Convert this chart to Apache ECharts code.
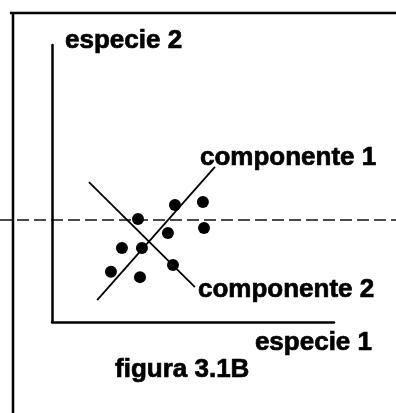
<!DOCTYPE html>
<html lang="es">
<head>
    <meta charset="UTF-8">
    <title>figura 3.1B</title>
    <style>
        * {
            margin: 0;
            padding: 0;
            box-sizing: border-box;
        }

        html,
        body {
            height: 100%;
            background: #fff;
        }

        #box {
            width: 396px;
            height: 413px;
        }
    </style>
    <script src="https://cdn.jsdelivr.net/npm/echarts@6/dist/echarts.min.js"></script>
</head>

<body>
    <div id="box"></div>

    <script>
        // puntos: especie 1 (x), especie 2 (y)
        var especie1 = [43.6, 53.5, 30.5, 53.9, 41.1, 24.8, 31.9, 42.9, 20.9, 31.2];
        var especie2 = [42.2, 43.3, 37.2, 33.9, 32.1, 26.7, 26.7, 20.6, 18.1, 16.2];

        // ejes de los componentes: [inicio, fin]
        var comp1X = [16.0, 57.8];
        var comp1Y = [7.9, 56.0];
        var comp2X = [13.1, 50.7];
        var comp2Y = [50.5, 12.6];

        // linea discontinua horizontal
        var lineaRef = 36.8;

        var fuente = "'Liberation Sans', Arial, sans-serif";
        // texto en negrita un poco mas grueso, como el escaneo
        var texto = {
            fontFamily: fuente,
            fontWeight: 'bold',
            fontSize: 26,
            color: '#000',
            textBorderColor: '#000',
            textBorderWidth: 0.7
        };

        function pares(xs, ys) {
            return xs.map(function (x, i) { return [x, ys[i]]; });
        }

        var box = document.getElementById('box');
        var myChart = echarts.init(box);

        myChart.setOption({
            animation: false,
            backgroundColor: '#fff',
            title: {
                text: 'figura 3.1B',
                left: 115,
                top: 357,
                padding: 0,
                textStyle: texto
            },
            grid: {
                left: 52,
                right: 62,
                top: 45,
                bottom: 91
            },
            xAxis: {
                type: 'value',
                min: 0,
                max: 100,
                name: 'especie 1',
                nameLocation: 'end',
                nameGap: 38,
                nameTextStyle: Object.assign({}, texto, {
                    lineHeight: 26,
                    align: 'right',
                    verticalAlign: 'top',
                    padding: [8, 0, 0, 0]
                }),
                axisLine: { lineStyle: { color: '#000', width: 2.5 } },
                axisTick: { show: false },
                axisLabel: { show: false },
                splitLine: { show: false }
            },
            yAxis: {
                type: 'value',
                min: 0,
                max: 100,
                name: 'especie 2',
                nameLocation: 'end',
                nameGap: 4,
                nameTextStyle: Object.assign({}, texto, {
                    align: 'left',
                    verticalAlign: 'middle',
                    padding: [0, 0, 0, 13]
                }),
                axisLine: { show: true, lineStyle: { color: '#000', width: 2.5 } },
                axisTick: { show: false },
                axisLabel: { show: false },
                splitLine: { show: false }
            },
            series: [
                {
                    name: 'componente 1',
                    type: 'line',
                    data: pares(comp1X, comp1Y),
                    showSymbol: false,
                    lineStyle: { color: '#000', width: 1.8 },
                    endLabel: Object.assign({
                        show: true,
                        formatter: 'componente 1',
                        distance: 0,
                        offset: [-15, -9]
                    }, texto)
                },
                {
                    name: 'componente 2',
                    type: 'line',
                    data: pares(comp2X, comp2Y),
                    showSymbol: false,
                    lineStyle: { color: '#000', width: 1.8 },
                    endLabel: Object.assign({
                        show: true,
                        formatter: 'componente 2',
                        distance: 0,
                        offset: [3, 3]
                    }, texto)
                },
                {
                    name: 'puntos',
                    type: 'scatter',
                    data: pares(especie1, especie2),
                    symbolSize: 12,
                    itemStyle: { color: '#000', opacity: 1 }
                }
            ]
        });

        // marco exterior y linea discontinua a todo lo ancho
        var yRef = myChart.convertToPixel({ gridIndex: 0 }, [0, lineaRef])[1];
        myChart.setOption({
            graphic: [
                {
                    type: 'line',
                    shape: { x1: 10, y1: 13, x2: 396, y2: 13 },
                    style: { stroke: '#000', lineWidth: 2.5 }
                },
                {
                    type: 'line',
                    shape: { x1: 13, y1: 12, x2: 13, y2: 413 },
                    style: { stroke: '#000', lineWidth: 2.5 }
                },
                {
                    type: 'line',
                    shape: { x1: 0, y1: yRef, x2: 396, y2: yRef },
                    style: { stroke: '#111', lineWidth: 1.4, lineDash: [12, 5] }
                }
            ]
        });

        window.onresize = function () {
            myChart.resize();
        }
    </script>
</body>

</html>
